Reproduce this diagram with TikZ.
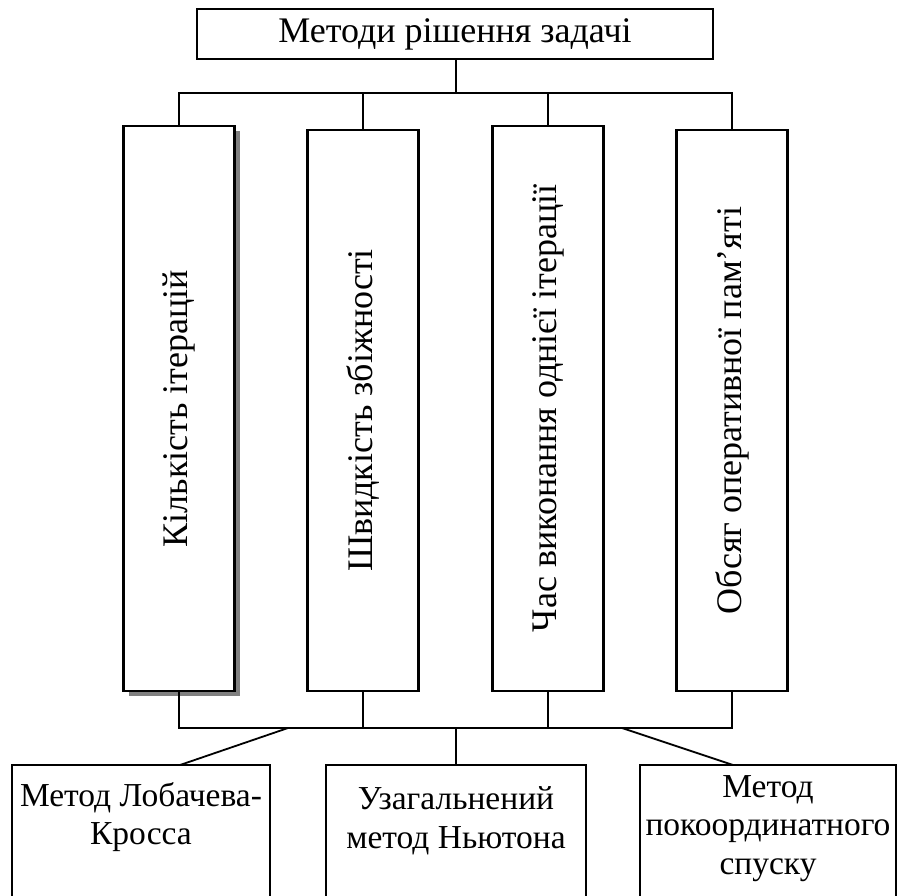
\documentclass[tikz,border=0pt]{standalone}
\usepackage{fontspec}
\setmainfont{Liberation Serif}
\usepackage{graphicx}
\usetikzlibrary{shadows}
\begin{document}
\begin{tikzpicture}[x=1pt, y=-1pt,
    box/.style={draw, line width=2.8pt, fill=white, inner sep=0pt},
    krit/.style={box, minimum width=111pt, minimum height=565pt, font=\fontsize{36}{42}\selectfont},
    metbox/.style={box, minimum height=150pt},
    mettext/.style={align=center, inner sep=0pt, font=\fontsize{33.5}{38.5}\selectfont},
    zv/.style={line width=1.8pt}]
            \useasboundingbox (0,0) rectangle (897,895);
            \clip (0,0) rectangle (897,895);
            \node [box, minimum width=516pt, minimum height=50pt, font=\fontsize{36}{42}\selectfont] (metody) at (455,34) {Методи рішення задачі};
            \node [krit, drop shadow={shadow xshift=5pt, shadow yshift=-5pt, fill=gray, opacity=1}] (k1) at (179,408.5) {\rotatebox{90}{Кількість ітерацій}};
            \node [krit, minimum height=561pt] (k2) at (363,410.5) {\rotatebox{90}{Швидкість збіжності}};
            \node [krit] (k3) at (548,408.5) {\rotatebox{90}{Час виконання однієї ітерації}};
            \node [krit, minimum height=561pt] (k4) at (732,410.5) {\rotatebox{90}{Обсяг оперативної пам’яті}};
            \node [metbox, minimum width=258pt] (mA) at (141,840) {};
            \node [metbox, minimum width=260pt] (mB) at (456,840) {};
            \node [metbox, minimum width=256pt] (mC) at (768,840) {};
            \node [mettext] (tA) at (141,817) {Метод Лобачева-\\Кросса};
            \node [mettext] (tB) at (456,821) {Узагальнений\\метод Ньютона};
            \node [mettext] (tC) at (768,828.5) {Метод\\покоординатного\\спуску};
            \coordinate (vverh) at (456,93);
            \coordinate (vniz) at (456,728);
            \coordinate (lz) at (288,728);
            \coordinate (pz) at (622,728);
            \coordinate (sA) at (180,765);
            \coordinate (sC) at (733,765);
            % verkhnia shyna
            \draw [zv] (metody.south -| vverh) -- (vverh);
            \draw [zv] (k1.north) |- (vverh) -| (k4.north);
            \draw [zv] (k2.north) -- (k2.north |- vverh);
            \draw [zv] (k3.north) -- (k3.north |- vverh);
            % nyzhnia shyna
            \draw [zv] (k1.south) |- (vniz) -| (k4.south);
            \draw [zv] (k2.south) -- (k2.south |- vniz);
            \draw [zv] (k3.south) -- (k3.south |- vniz);
            \draw [zv] (lz) -- (sA);
            \draw [zv] (vniz) -- (mB.north);
            \draw [zv] (pz) -- (sC);
        \end{tikzpicture}
\end{document}
